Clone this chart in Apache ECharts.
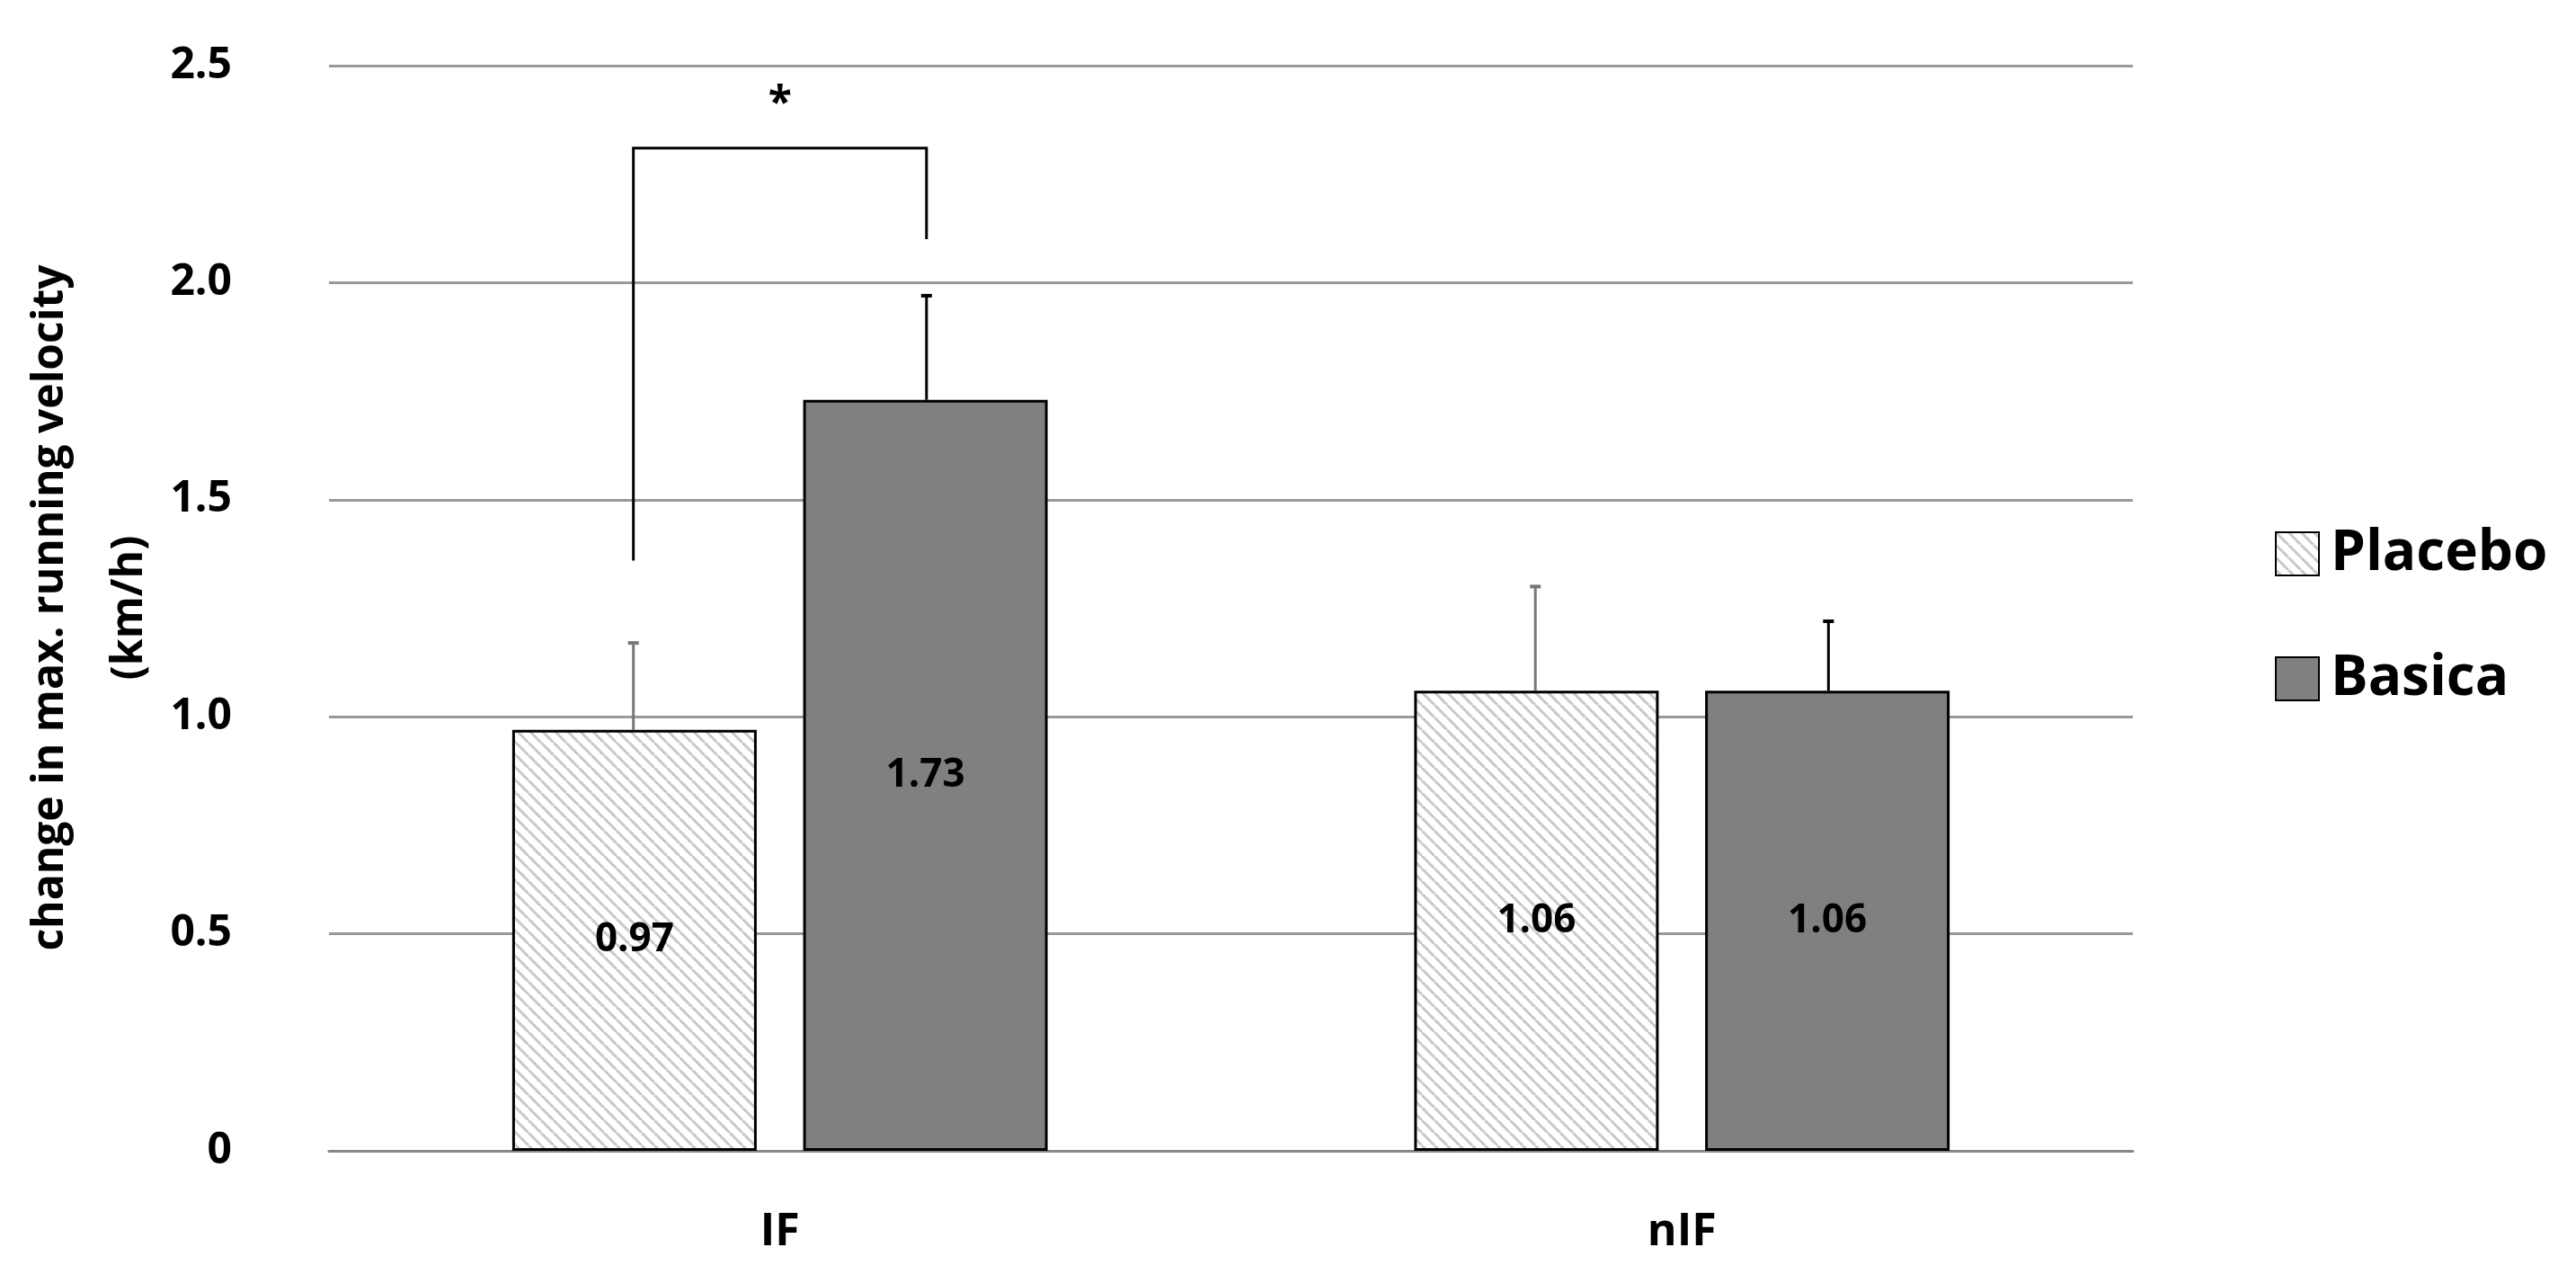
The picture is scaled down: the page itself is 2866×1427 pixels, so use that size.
<!DOCTYPE html>
<html><head><meta charset="utf-8">
<script src="https://cdn.jsdelivr.net/npm/echarts@6/dist/echarts.min.js"></script>
<style>html,body{margin:0;padding:0;background:#fff}#c{width:2866px;height:1427px}</style>
</head><body><div id="c"></div>
<script>
const categories = ['IF', 'nIF'];
const placebo = [0.97, 1.06];
const basica = [1.73, 1.06];
const placeboErrTop = [1.17, 1.30];
const basicaErrTop = [1.97, 1.22];
const bracket = { left: 1.36, top: 2.31, right: 2.10, star: 2.41 };
const yTicks = ['0', '0.5', '1.0', '1.5', '2.0', '2.5'];

const FONT = 'Open Sans';
const pc = document.createElement('canvas');
pc.width = 14; pc.height = 14;
const g = pc.getContext('2d');
g.fillStyle = '#fff'; g.fillRect(0,0,14,14);
g.strokeStyle = '#c8c8c8'; g.lineWidth = 3;
for (let k = -14; k <= 28; k += 14) { g.beginPath(); g.moveTo(k, 0); g.lineTo(k + 14, 14); g.stroke(); }

const OFF = 0.1625;
function errItem(off, color) {
  return function (params, api) {
    const c = api.value(0), v = api.value(1), t = api.value(2);
    const bw = api.size([1, 0])[0];
    const p0 = api.coord([c, v]), p1 = api.coord([c, t]);
    const x = p0[0] + off * bw;
    return { type: 'group', children: [
      { type: 'line', shape: { x1: x, y1: p0[1], x2: x, y2: p1[1] }, style: { stroke: color, lineWidth: 3 } },
      { type: 'line', shape: { x1: x - 6, y1: p1[1], x2: x + 6, y2: p1[1] }, style: { stroke: color, lineWidth: 4 } }
    ]};
  };
}
const chart = echarts.init(document.getElementById('c'));
chart.setOption({
  animation: false,
  grid: { left: 366, right: 493, top: 73, bottom: 147 },
  legend: {
    orient: 'vertical', left: 2526, top: 580, itemWidth: 48, itemHeight: 48, itemGap: 77, icon: 'rect',
    data: ['Placebo', 'Basica'],
    textStyle: { fontFamily: FONT, fontWeight: 'bold', fontSize: 62, color: '#000', padding: [0,0,0,8] }
  },
  xAxis: {
    type: 'category', data: categories,
    axisLine: { lineStyle: { color: '#888', width: 3 } }, axisTick: { show: false },
    axisLabel: { fontFamily: FONT, fontWeight: 'bold', fontSize: 50, color: '#000', margin: 66 }
  },
  yAxis: {
    type: 'value', min: 0, max: 2.5, interval: 0.5,
    axisLine: { show: false }, axisTick: { show: false },
    splitLine: { lineStyle: { color: '#999', width: 3 } },
    axisLabel: { fontFamily: FONT, fontWeight: 'bold', fontSize: 48, color: '#000', margin: 108,
      formatter: (v) => yTicks[Math.round(v / 0.5)] }
  },
  graphic: [{
    type: 'text', x: 100, y: 676, rotation: Math.PI / 2,
    style: { text: 'change in max. running velocity\n(km/h)', fontFamily: FONT, fontWeight: 'bold', fontSize: 48,
      lineHeight: 88, fill: '#000', align: 'center', verticalAlign: 'middle' }
  }],
  series: [
    { name: 'Placebo', type: 'bar', data: placebo, barWidth: 272, barGap: '19%',
      itemStyle: { color: { image: pc, repeat: 'repeat' }, borderColor: '#000', borderWidth: 3 },
      label: { show: true, position: 'inside', fontFamily: FONT, fontWeight: 'bold', fontSize: 44, color: '#000', formatter: p => p.value.toFixed(2) } },
    { name: 'Basica', type: 'bar', data: basica, barWidth: 272,
      itemStyle: { color: '#808080', borderColor: '#000', borderWidth: 3 },
      label: { show: true, position: 'inside', fontFamily: FONT, fontWeight: 'bold', fontSize: 44, color: '#000', formatter: p => p.value.toFixed(2) } },
    { type: 'custom', z: 1, renderItem: errItem(-OFF, '#777'), data: placebo.map((v, i) => [i, v, placeboErrTop[i]]) },
    { type: 'custom', z: 1, renderItem: errItem(OFF, '#000'), data: basica.map((v, i) => [i, v, basicaErrTop[i]]) },
    { type: 'custom', z: 5, data: [[0, bracket.left, bracket.top, bracket.right, bracket.star]],
      renderItem: function (params, api) {
        const bw = api.size([1, 0])[0];
        const c = api.coord([0, api.value(1)]);
        const xl = c[0] - OFF * bw, xr = c[0] + OFF * bw;
        const yl = c[1], yt = api.coord([0, api.value(2)])[1], yr = api.coord([0, api.value(3)])[1], ys = api.coord([0, api.value(4)])[1];
        return { type: 'group', children: [
          { type: 'polyline', shape: { points: [[xl, yl], [xl, yt], [xr, yt], [xr, yr]] }, style: { stroke: '#000', lineWidth: 3, fill: null } },
          { type: 'text', x: c[0], y: ys, style: { text: '*', fontFamily: FONT, fontWeight: 'bold', fontSize: 48, fill: '#000', align: 'center', verticalAlign: 'middle' } }
        ]};
      } }
  ]
});
</script></body></html>
